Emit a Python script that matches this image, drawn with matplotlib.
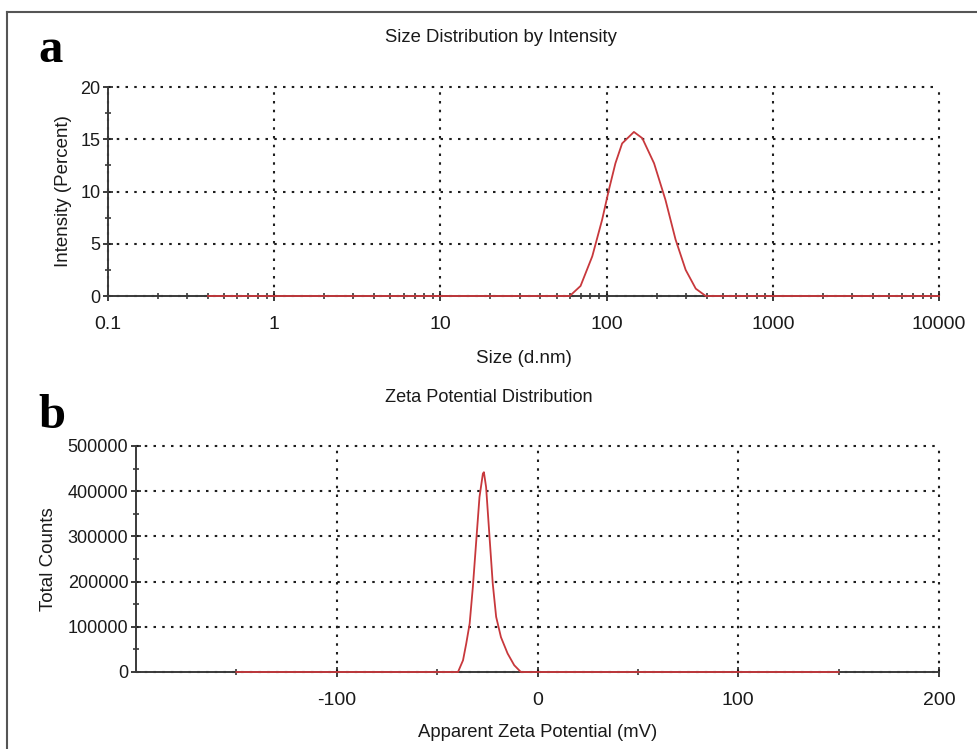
import matplotlib
matplotlib.use("Agg")
import matplotlib.pyplot as plt
from matplotlib.ticker import FixedLocator, LogLocator, NullFormatter, FuncFormatter
from matplotlib.lines import Line2D

plt.rcParams['font.family'] = ['Liberation Sans', 'DejaVu Sans']
plt.rcParams['axes.unicode_minus'] = False

# ---- Data: Size distribution by intensity ----
size_nm = [0.4, 1, 10, 40, 60, 69.7, 82, 94, 103, 113, 124, 146, 164, 193, 226, 260, 299, 344, 395, 1000, 10000]
intensity_pct = [0, 0, 0, 0, 0, 0.96, 3.8, 7.3, 10.1, 12.7, 14.6, 15.7, 15.1, 12.7, 9.2, 5.4, 2.5, 0.7, 0, 0, 0]

# ---- Data: Zeta potential distribution ----
zeta_mv = [-150, -100, -50, -39.6, -37.1, -35.5, -33.8, -32.2, -30.5, -28.9, -27.2, -26.7, -25.6,
           -23.9, -22.3, -20.6, -18.2, -14.9, -11.6, -8.3, 0, 50, 100, 150]
total_counts = [0, 0, 0, 0, 25900, 62800, 107000, 188000, 291000, 387000, 439000, 442000, 409000,
                299000, 196000, 122000, 77000, 41000, 15000, 0, 0, 0, 0, 0]

size_ticks = [0.1, 1, 10, 100, 1000, 10000]
size_ticklabels = ['0.1', '1', '10', '100', '1000', '10000']
zeta_ticks = [-100, 0, 100, 200]

RED = '#c8383c'
AX = '#3a3a3a'
TXT = '#1a1a1a'

fig = plt.figure(figsize=(9.78, 7.49), dpi=100)
W, H = 978, 749

def rect(l, t, r, b):
    return [l / W, 1 - b / H, (r - l) / W, (b - t) / H]

grid_kw = dict(color='#1e1e1e', linestyle=(0, (1.2, 3.0)), linewidth=1.5)

def style(ax):
    for s in ['top', 'right']:
        ax.spines[s].set_visible(False)
    for s in ['left', 'bottom']:
        ax.spines[s].set_color(AX)
        ax.spines[s].set_linewidth(1.4)
        ax.spines[s].set_zorder(2)
    ax.tick_params(which='both', direction='inout', color=AX, width=1.2)
    ax.tick_params(which='major', length=7)
    ax.tick_params(which='minor', length=5)
    ax.tick_params(axis='x', labelsize=14, pad=11, colors=TXT)
    ax.tick_params(axis='y', labelsize=13, pad=2, colors=TXT)

def add_grid(ax):
    ax.grid(True, which='major', **grid_kw)
    ax.set_axisbelow(True)
    for ln in ax.get_xgridlines() + ax.get_ygridlines():
        ln.set_clip_on(False)

# ---- Panel a ----
ax1 = fig.add_axes(rect(108, 87, 939, 296))
ax1.set_xscale('log')
ax1.set_xlim(0.1, 10000)
ax1.set_ylim(0, 20)
ax1.xaxis.set_major_locator(FixedLocator(size_ticks))
ax1.set_xticklabels(size_ticklabels)
ax1.xaxis.set_minor_locator(LogLocator(base=10, subs=range(2, 10)))
ax1.xaxis.set_minor_formatter(NullFormatter())
ax1.set_yticks([0, 5, 10, 15, 20])
ax1.yaxis.set_minor_locator(FixedLocator([2.5, 7.5, 12.5, 17.5]))
style(ax1)
add_grid(ax1)
ax1.plot(size_nm, intensity_pct, color=RED, linewidth=1.3, zorder=3, clip_on=False)
ax1.set_xlabel('Size (d.nm)', fontsize=13.5, labelpad=12, color=TXT)
ax1.set_ylabel('Intensity (Percent)', fontsize=13.5, labelpad=6, color=TXT)

# ---- Panel b ----
ax2 = fig.add_axes(rect(136, 446, 939, 672))
ax2.set_xlim(-200, 200)
ax2.set_ylim(0, 500000)
ax2.set_xticks(zeta_ticks)
ax2.xaxis.set_minor_locator(FixedLocator([-150, -50, 50, 150]))
ax2.set_yticks([0, 100000, 200000, 300000, 400000, 500000])
ax2.yaxis.set_major_formatter(FuncFormatter(lambda v, p: f'{int(v)}'))
ax2.yaxis.set_minor_locator(FixedLocator([50000, 150000, 250000, 350000, 450000]))
style(ax2)
add_grid(ax2)
ax2.plot(zeta_mv, total_counts, color=RED, linewidth=1.3, zorder=3, clip_on=False)
ax2.set_xlabel('Apparent Zeta Potential (mV)', fontsize=13.3, labelpad=11, color=TXT)
ax2.set_ylabel('Total Counts', fontsize=13.5, labelpad=8, color=TXT)

# ---- Titles & panel labels ----
fig.text(501 / W, 1 - 37 / H, 'Size Distribution by Intensity', fontsize=13.3,
         ha='center', va='center', color=TXT)
fig.text(489 / W, 1 - 397 / H, 'Zeta Potential Distribution', fontsize=13.1,
         ha='center', va='center', color=TXT)
fig.text(38 / W, 1 - 50 / H, 'a', fontsize=35, fontweight='bold', family='Liberation Serif',
         ha='left', va='center')
fig.text(38 / W, 1 - 416 / H, 'b', fontsize=35, fontweight='bold', family='Liberation Serif',
         ha='left', va='center')

# ---- Outer frame (top and left edges) ----
fig.add_artist(Line2D([7 / W, 1.0], [1 - 12 / H, 1 - 12 / H], color='#555555', linewidth=1.5,
                      transform=fig.transFigure))
fig.add_artist(Line2D([7 / W, 7 / W], [0, 1 - 12 / H], color='#555555', linewidth=1.5,
                      transform=fig.transFigure))

fig.savefig('out.png', dpi=100)
